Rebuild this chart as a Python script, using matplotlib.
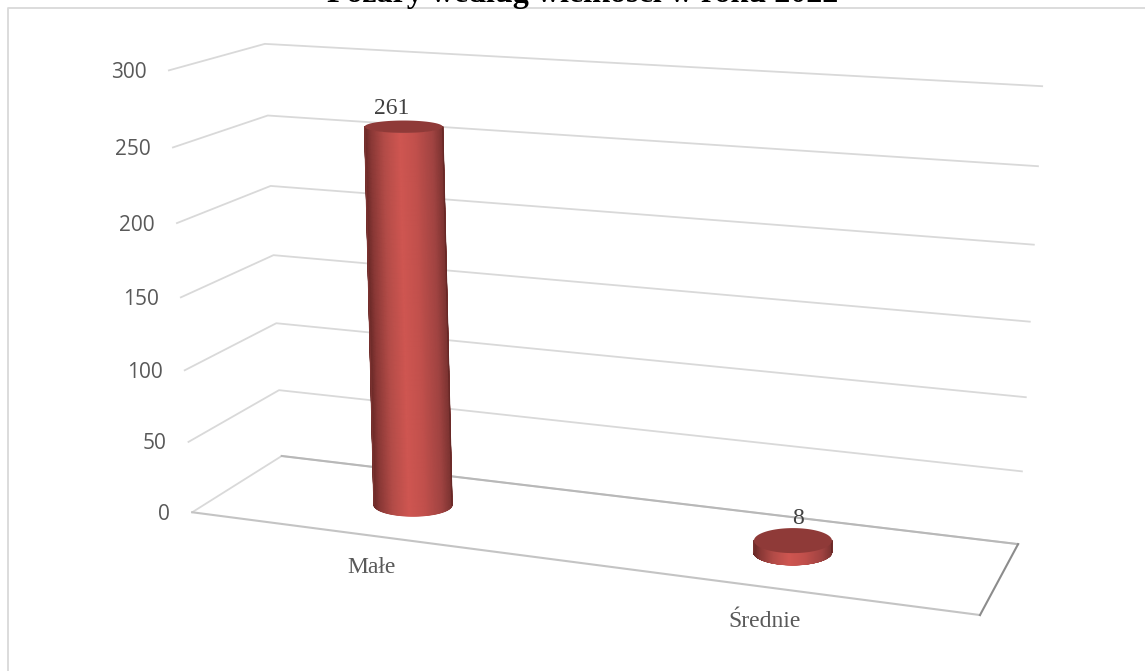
import numpy as np
import matplotlib
matplotlib.use('Agg')
import matplotlib.pyplot as plt
from matplotlib.colors import LinearSegmentedColormap

categories = ['Małe', 'Średnie']
values = [261, 8]
y_ticks = [0, 50, 100, 150, 200, 250, 300]
title = 'Pożary według wielkości w roku 2022'

W, H = 1145, 671
BAR_U = [0.25, 0.75]   # where the categories sit on the floor
BAR_V = 0.5
VALUE_OFFSET = [(-12, -18), (5, -22)]
CAT_OFFSET = [(0, 32), (0, 35)]

# pixel positions of the box corners, used to fit the camera
world_pts = [(0, 0, 0), (0, 1, 0), (1, 0, 0), (1, 1, 0),
             (0, 0, 300), (0, 1, 300), (1, 1, 300),
             (0, 0, 150), (0, 1, 150), (1, 1, 150)]
pixel_pts = [(192, 512), (283, 456), (980, 615), (1018, 544),
             (170, 70), (265, 44), (1042, 86),
             (180, 298), (272, 255), (1030, 322)]


def fit_camera(world, pixel):
    rows = []
    for (u, v, h), (x, y) in zip(world, pixel):
        h = h / 300.0
        rows.append([u, v, h, 1, 0, 0, 0, 0, -x*u, -x*v, -x*h, -x])
        rows.append([0, 0, 0, 0, u, v, h, 1, -y*u, -y*v, -y*h, -y])
    _, _, vt = np.linalg.svd(np.array(rows, dtype=float))
    return vt[-1].reshape(3, 4)


cam = fit_camera(world_pts, pixel_pts)


def project(u, v, h):
    p = cam @ np.array([u, v, h / 300.0, 1.0])
    return p[0] / p[2], p[1] / p[2]


def ring_height(u, h):
    # the caps get flatter the higher they are, same as the box depth
    return abs(project(u, BAR_V + DV, h)[1] - project(u, BAR_V - DV, h)[1]) / 2


fig = plt.figure(figsize=(W / 100, H / 100), dpi=100)
ax = fig.add_axes([0, 0, 1, 1])
ax.set_xlim(0, W)
ax.set_ylim(H, 0)
ax.autoscale(False)
ax.axis('off')

# frame of the chart, only left and top survive the crop
ax.plot([8, 8, W], [H, 8, 8], color='#d9d9d9', lw=1.3, zorder=1)

grid = '#d9d9d9'
for t in y_ticks:
    pts = [project(0, 0, t), project(0, 1, t), project(1, 1, t)]
    ax.plot([p[0] for p in pts], [p[1] for p in pts], color=grid, lw=1.3, zorder=2)
    x0, y0 = project(0, 0, t)
    ax.text(x0 - 22, y0 + 2, str(t), ha='right', va='center', fontsize=15,
            family='Open Sans', color='#595959')

# floor
fl, fr, br, bl = project(0, 0, 0), project(1, 0, 0), project(1, 1, 0), project(0, 1, 0)
ax.plot([fl[0], fr[0]], [fl[1], fr[1]], color='#c4c4c4', lw=1.5, zorder=2)
ax.plot([bl[0], br[0]], [bl[1], br[1]], color='#b8b8b8', lw=1.5, zorder=2)
ax.plot([fr[0], br[0]], [fr[1], br[1]], color='#8c8c8c', lw=1.5, zorder=2)

shade = LinearSegmentedColormap.from_list('cyl', [
    (0.0, '#7c3331'), (0.12, '#a04341'), (0.35, '#c2504c'), (0.55, '#cf5651'),
    (0.75, '#b44c48'), (0.92, '#8a3836'), (1.0, '#672826')])
top_col = '#8f3a38'

RX = 39
DV = 0.19
theta = np.linspace(np.pi, 0, 121)  # front half of the ring, left to right

for u, val, cat, voff, coff in zip(BAR_U, values, categories, VALUE_OFFSET, CAT_OFFSET):
    bx, by = project(u, BAR_V, 0)
    tx, ty = project(u, BAR_V, val)
    ry_b, ry_t = ring_height(u, 0), ring_height(u, val)
    # many rows, long thin gouraud triangles make the edges wavy
    f = np.linspace(0, 1, 80)[:, None]
    X = (bx + (tx - bx)*f) + RX*np.cos(theta)[None, :]
    Y = (by + (ty - by)*f) + (ry_b + (ry_t - ry_b)*f)*np.sin(theta)[None, :]
    C = np.tile(0.5 - 0.5*np.cos(theta), (80, 1))
    ax.pcolormesh(X, Y, C, shading='gouraud', cmap=shade, vmin=0, vmax=1, zorder=3)
    ax.plot([bx - RX, tx - RX], [by, ty], color=shade(0.0), lw=1, zorder=3.5)
    ax.plot([bx + RX, tx + RX], [by, ty], color=shade(1.0), lw=1, zorder=3.5)
    ring = np.linspace(0, 2*np.pi, 100)
    ax.fill(tx + RX*np.cos(ring), ty + ry_t*np.sin(ring), color=top_col, lw=0, zorder=4)
    ax.text(tx + voff[0], ty + voff[1], str(val), ha='center', va='center', fontsize=17,
            family='Liberation Serif', color='#404040', zorder=5)
    lx, ly = project(u, 0, 0)
    ax.text(lx + coff[0], ly + coff[1], cat, ha='center', va='center', fontsize=17,
            family='Liberation Serif', color='#595959')

# the title is cut by the top edge of the picture
ax.text(583, 2, title, ha='center', va='baseline', fontsize=23, fontweight='bold',
        family='Liberation Serif', color='black')

fig.savefig('out.png', dpi=100)
